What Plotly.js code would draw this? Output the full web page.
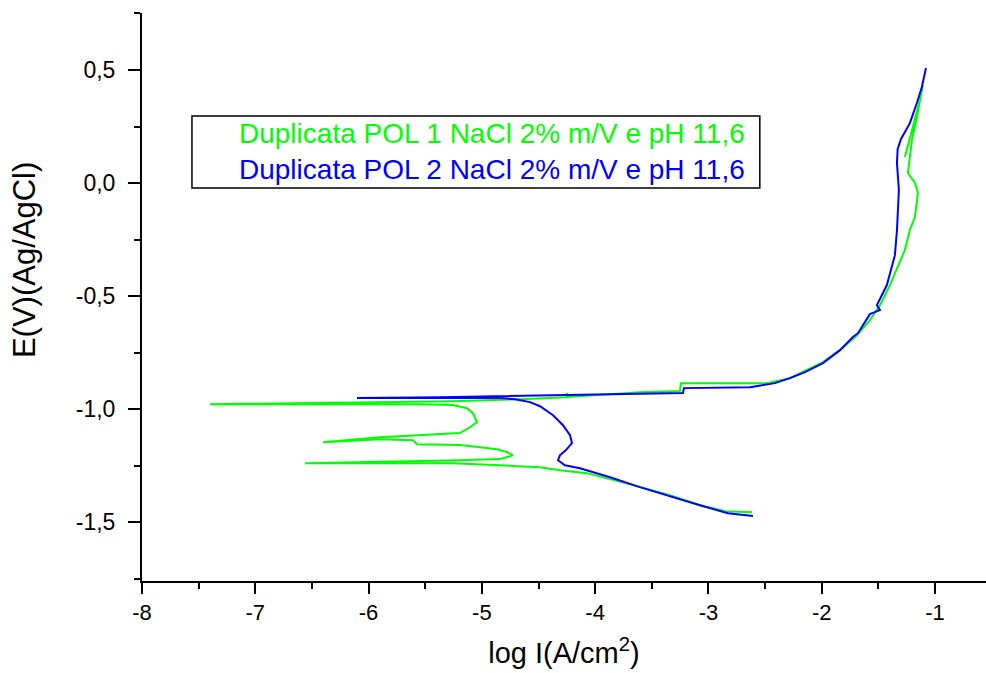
<!DOCTYPE html>
<html>
<head>
<meta charset="utf-8">
<script src="https://cdn.plot.ly/plotly-3.0.1.min.js"></script>
<style>
html,body{margin:0;padding:0;background:#fff;}
#chart{width:986px;height:673px;}
</style>
</head>
<body>
<div id="chart"></div>
<script>
// Duplicata POL 1 (green): log I vs E
var pol1LogI = [-2.616,-2.854,-3.075,-3.340,-3.666,-3.958,-4.072,-4.311,-4.487,-4.840,-5.255,-5.723,-6.561,
  -5.193,-4.840,-4.752,-4.726,-4.778,-4.867,-5.017,-5.193,-5.573,-5.608,-5.899,-6.402,
  -5.899,-5.370,-5.193,-5.105,-5.043,-5.079,-5.132,-5.255,-5.546,-7.400,
  -5.255,-4.664,-4.258,-4.249,-4.245,-3.605,-3.252,-3.243,-2.484,-2.281,-1.989,-1.839,-1.689,-1.575,-1.486,-1.398,
  -1.266,-1.222,-1.177,-1.151,-1.177,-1.239,-1.222,-1.204,-1.160,-1.116,-1.107,-1.133,-1.266];
var pol1E = [-1.456,-1.451,-1.425,-1.381,-1.336,-1.296,-1.283,-1.270,-1.257,-1.248,-1.239,-1.239,-1.239,
  -1.226,-1.221,-1.208,-1.204,-1.190,-1.177,-1.168,-1.159,-1.155,-1.137,-1.133,-1.146,
  -1.124,-1.111,-1.106,-1.080,-1.058,-1.018,-0.996,-0.982,-0.978,-0.978,
  -0.965,-0.956,-0.947,-0.929,-0.946,-0.925,-0.920,-0.885,-0.885,-0.863,-0.792,-0.739,-0.673,-0.606,-0.540,-0.451,
  -0.296,-0.208,-0.150,-0.044,0.000,0.044,0.115,0.190,0.292,0.412,0.434,0.367,0.115];

// Duplicata POL 2 (blue): log I vs E
var pol2LogI = [-2.607,-2.828,-3.075,-3.340,-3.605,-3.869,-4.134,-4.267,-4.328,-4.311,-4.258,-4.205,-4.222,-4.284,
  -4.372,-4.487,-4.575,-4.708,-4.840,-5.370,-6.102,
  -5.370,-4.311,-3.225,-3.216,-2.634,-2.413,-2.281,-2.148,-1.989,-1.839,-1.725,-1.680,-1.662,-1.610,-1.575,-1.486,-1.513,
  -1.425,-1.354,-1.336,-1.319,-1.336,-1.330,-1.300,-1.222,-1.160,-1.116,-1.080];
var pol2E = [-1.473,-1.460,-1.425,-1.385,-1.345,-1.301,-1.261,-1.248,-1.226,-1.204,-1.181,-1.150,-1.115,-1.071,
  -1.027,-0.987,-0.969,-0.956,-0.951,-0.951,-0.951,
  -0.947,-0.938,-0.929,-0.907,-0.903,-0.885,-0.863,-0.836,-0.796,-0.739,-0.681,-0.664,-0.650,-0.606,-0.580,-0.562,-0.540,
  -0.451,-0.319,-0.208,-0.031,0.088,0.150,0.195,0.265,0.354,0.425,0.509];

var seriesNames = ["Duplicata POL 1 NaCl 2% m/V e pH 11,6", "Duplicata POL 2 NaCl 2% m/V e pH 11,6"];

var xTickVals = [-8,-7,-6,-5,-4,-3,-2,-1];
var xTickText = ["-8","-7","-6","-5","-4","-3","-2","-1"];
var yTickVals = [0.5,0,-0.5,-1,-1.5];
var yTickText = ["0,5","0,0","-0,5","-1,0","-1,5"];

var FONT = "Liberation Sans, Arial, sans-serif";
var GREEN = "#00ff00", BLUE = "#0000ff";

var traces = [
  {x: pol1LogI, y: pol1E, type: "scatter", mode: "lines", name: seriesNames[0],
   line: {color: GREEN, width: 2}},
  {x: pol2LogI, y: pol2E, type: "scatter", mode: "lines", name: seriesNames[1],
   line: {color: BLUE, width: 2}}
];

var layout = {
  width: 986, height: 673,
  margin: {l: 142, r: 0, t: 13, b: 92},
  paper_bgcolor: "#fff", plot_bgcolor: "#fff",
  showlegend: false,
  font: {family: FONT, color: "#000", size: 22},
  xaxis: {
    range: [-8, -0.55], showgrid: false, zeroline: false,
    showline: true, linecolor: "#000", linewidth: 2,
    ticks: "outside", ticklen: 11, tickwidth: 2, tickcolor: "#000",
    tickvals: xTickVals, ticktext: xTickText,
    tickfont: {family: FONT, size: 22},
    minor: {dtick: 0.5, ticks: "outside", ticklen: 6, tickwidth: 2, tickcolor: "#000", showgrid: false},
    title: {text: "log I(A/cm<sup>2</sup>)", font: {family: FONT, size: 29}, standoff: 18}
  },
  yaxis: {
    range: [-1.76, 0.752], showgrid: false, zeroline: false,
    showline: true, linecolor: "#000", linewidth: 2,
    ticks: "outside", ticklen: 12, tickwidth: 2, tickcolor: "#000",
    tickvals: yTickVals, ticktext: yTickText,
    tickfont: {family: FONT, size: 23},
    ticklabelstandoff: 8,
    minor: {dtick: 0.25, ticks: "outside", ticklen: 6, tickwidth: 2, tickcolor: "#000", showgrid: false}
  },
  shapes: [
    {type: "rect", xref: "paper", yref: "paper", x0: 0.0592, x1: 0.732, y0: 0.6919, y1: 0.8187,
     line: {color: "#000", width: 1.5}, fillcolor: "rgba(0,0,0,0)"}
  ],
  annotations: [
    {xref: "paper", yref: "paper", x: 0.1125, y: 0.7553, xanchor: "left", yanchor: "middle",
     align: "left", showarrow: false, font: {family: FONT, size: 28},
     text: '<span style="color:' + GREEN + '">' + seriesNames[0] + '</span><br><span style="color:' + BLUE + '">' + seriesNames[1] + '</span>'},
    {xref: "paper", yref: "paper", x: -0.1398, y: 0.565, xanchor: "center", yanchor: "middle",
     textangle: -90, showarrow: false, font: {family: FONT, size: 31}, text: "E(V)(Ag/AgCl)"}
  ]
};

Plotly.newPlot("chart", traces, layout, {displayModeBar: false, staticPlot: true});
</script>
</body>
</html>
